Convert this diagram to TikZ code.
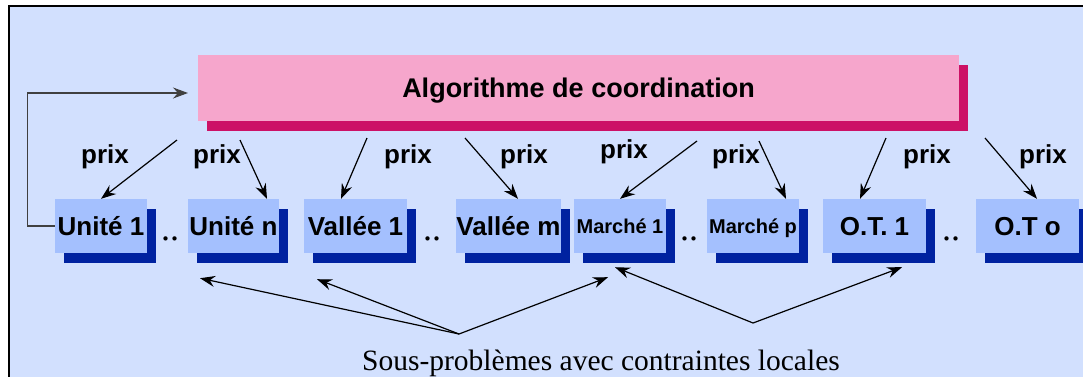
\documentclass[tikz,border=0pt]{standalone}
\usepackage{fontspec}
\setmainfont{Liberation Serif}
\setsansfont{Liberation Sans}
\usetikzlibrary{shadows,arrows.meta}
\definecolor{fondbleu}{HTML}{D2E0FE}
\definecolor{blocclair}{HTML}{A4C0FE}
\definecolor{blocfonce}{HTML}{0022A0}
\definecolor{rose}{HTML}{F6A6CC}
\definecolor{rosefonce}{HTML}{CC1166}

\begin{document}
\begin{tikzpicture}[x=1pt, y=-1pt,
	bloc/.style={shape=rectangle, fill=blocclair, inner sep=0pt, minimum height=54pt, text depth=0pt, font=\sffamily\bfseries\fontsize{26}{26}\selectfont, general shadow={shadow xshift=9pt, shadow yshift=-10pt, fill=blocfonce}},
	etiq/.style={inner sep=0pt, anchor=base, font=\sffamily\bfseries\fontsize{26}{26}\selectfont},
	points/.style={inner sep=0pt, anchor=base, font=\fontsize{36}{36}\selectfont},
	fleche/.style={-{Stealth[length=15pt, width=11pt, inset=5pt]}, line width=1.2pt}]
			\useasboundingbox (0,0) rectangle (1083,376);
			%Fond:
			\draw[line width=1.5pt, fill=fondbleu] (9,6) rectangle (1100,400);
			%Coordination:
			\node[shape=rectangle, fill=rose, minimum width=761pt, minimum height=66pt, text depth=0pt, font=\sffamily\bfseries\fontsize{27}{27}\selectfont, general shadow={shadow xshift=9pt, shadow yshift=-10pt, fill=rosefonce}] (algo) at (578.5,88) {Algorithme de coordination};
			%Sous-problemes:
			\path
				(101,226) node[bloc, minimum width=92pt] (u1) {Unité 1}
				(233.5,226) node[bloc, minimum width=91pt] (un) {Unité n}
				(355.5,226) node[bloc, minimum width=103pt] (v1) {Vallée 1}
				(508.5,226) node[bloc, minimum width=103pt] (vm) {Vallée m}
				(620,226) node[bloc, minimum width=92pt, font=\sffamily\bfseries\fontsize{20}{20}\selectfont] (m1) {Marché 1}
				(753,226) node[bloc, minimum width=92pt, font=\sffamily\bfseries\fontsize{20}{20}\selectfont] (mp) {Marché p}
				(874.5,226) node[bloc, minimum width=103pt] (ot1) {O.T. 1}
				(1027.5,226) node[bloc, minimum width=103pt] (oto) {O.T o};
			\path
				(170,240) node[points] (pt1) {..}
				(432,240) node[points] (pt2) {..}
				(689,240) node[points] (pt3) {..}
				(951,240) node[points] (pt4) {..};
			%Prix:
			\path
				(105,163) node[etiq] (px1) {prix}
				(217,163) node[etiq] (px2) {prix}
				(408,163) node[etiq] (px3) {prix}
				(524,163) node[etiq] (px4) {prix}
				(624,158) node[etiq] (px5) {prix}
				(736,163) node[etiq] (px6) {prix}
				(927,163) node[etiq] (px7) {prix}
				(1043,163) node[etiq] (px8) {prix};
			\path
				(177,140) coordinate (d1)
				(240,140) coordinate (d2)
				(367,138) coordinate (d3)
				(465,138) coordinate (d4)
				(697,141) coordinate (d5)
				(759,141) coordinate (d6)
				(886,138) coordinate (d7)
				(985,138) coordinate (d8);
			\draw[fleche] (d1) -- (u1.north);
			\draw[fleche] (d2) -- ([xshift=33.5pt]un.north);
			\draw[fleche] (d3) -- ([xshift=-14.5pt]v1.north);
			\draw[fleche] (d4) -- ([xshift=9.5pt]vm.north);
			\draw[fleche] (d5) -- (m1.north);
			\draw[fleche] (d6) -- ([xshift=33pt]mp.north);
			\draw[fleche] (d7) -- ([xshift=-14.5pt]ot1.north);
			\draw[fleche] (d8) -- ([xshift=9.5pt]oto.north);
			%Retour:
			\coordinate (retour) at (188,93);
			\draw[fleche, line width=1.1pt, color=black!75] (u1.west) -- ++(-27,0) |- (retour);
			%Contraintes locales:
			\node[font=\fontsize{29.5}{29.5}\selectfont, inner sep=0pt, anchor=base] (sp) at (601,370) {Sous-problèmes avec contraintes locales};
			\coordinate (fa) at (459,334);
			\coordinate (fb) at (753,323);
			\draw[fleche] (fa) -- ([xshift=-33.5pt, yshift=-25pt]un.south);
			\draw[fleche] (fa) -- ([xshift=-38.5pt, yshift=-26pt]v1.south);
			\draw[fleche] (fa) -- ([xshift=-12pt, yshift=-24pt]m1.south);
			\draw[fleche] (fb) -- ([xshift=-5pt, yshift=-14pt]m1.south);
			\draw[fleche] (fb) -- ([xshift=27.5pt, yshift=-14pt]ot1.south);
\end{tikzpicture}
\end{document}
